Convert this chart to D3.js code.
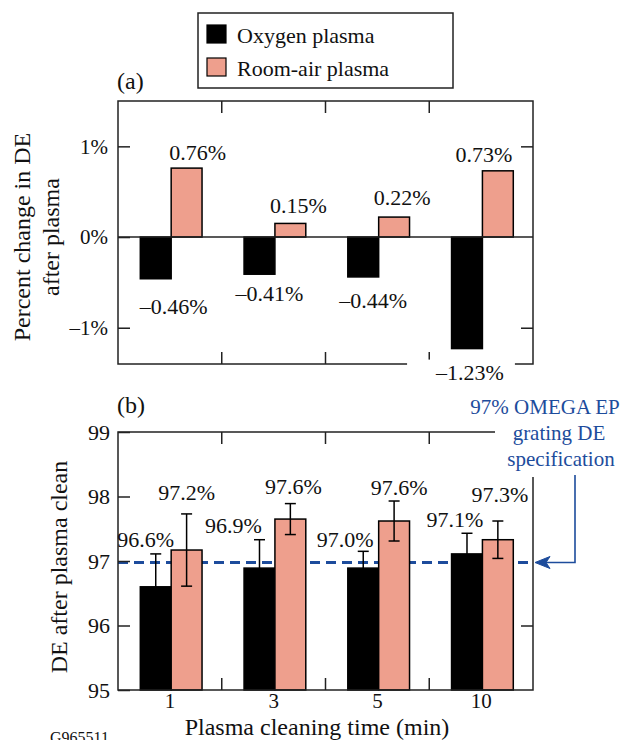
<!DOCTYPE html>
<html>
<head>
<meta charset="utf-8">
<script src="https://cdn.jsdelivr.net/npm/d3@7"></script>
<style>
  html, body { margin: 0; padding: 0; background: #fff; }
  svg { display: block; }
  text { font-family: "Liberation Serif", "Times New Roman", serif; fill: #111; }
</style>
</head>
<body>
<svg id="chart" width="624" height="740"></svg>
<script>
// ---------------- DATA ----------------
const categories = ["1", "3", "5", "10"];
const seriesNames = ["Oxygen plasma", "Room-air plasma"];
// panel (a): percent change in DE after plasma
const changeOxygen = [-0.46, -0.41, -0.44, -1.23];
const changeRoomAir = [0.76, 0.15, 0.22, 0.73];
const changeOxygenLabels = ["–0.46%", "–0.41%", "–0.44%", "–1.23%"];
const changeRoomAirLabels = ["0.76%", "0.15%", "0.22%", "0.73%"];
const yTicksA = [-1, 0, 1];
const yTickLabelsA = ["–1%", "0%", "1%"];
// panel (b): DE after plasma clean
const deOxygen = [96.6, 96.89, 96.89, 97.11];
const deRoomAir = [97.17, 97.65, 97.62, 97.33];
const errOxygen = [0.51, 0.44, 0.26, 0.32];
const errRoomAir = [0.56, 0.24, 0.31, 0.29];
const deOxygenLabels = ["96.6%", "96.9%", "97.0%", "97.1%"];
const deRoomAirLabels = ["97.2%", "97.6%", "97.6%", "97.3%"];
const yTicksB = [95, 96, 97, 98, 99];
const specValue = 97;
const specText = ["97% OMEGA EP", "grating DE", "specification"];
const xTitle = "Plasma cleaning time (min)";
const figureId = "G965511";

// ---------------- LAYOUT ----------------
const svg = d3.select("#chart");
const BLACK = "#000";
const PINK = "#EE9F8D";
const BLUE = "#1D4C9C";
const FRAME = "#222";
const left = 118, right = 533;
const A = { top: 101, bottom: 364 };
const B = { top: 432, bottom: 690 };

const x0 = d3.scaleBand().domain(categories).range([left, right]).padding(0);
const bw = x0.bandwidth();
const x1 = d3.scaleBand().domain(seriesNames).range([bw * 0.215, bw * 0.81]).padding(0);
const yA = d3.scaleLinear().domain([-1.4, 1.5]).range([A.bottom, A.top]);
const yB = d3.scaleLinear().domain([95, 99]).range([B.bottom, B.top]);
const color = d3.scaleOrdinal().domain(seriesNames).range([BLACK, PINK]);

// label nudges (manual label placement, px)
const nudgeAOxy = { dx: [18, 10, 10, 3], dy: [35, 27, 31, 31] };
const nudgeARoom = { dx: [11, 8, 8, -14], dy: [-8, -10, -12, -9] };
const nudgeBOxy = { dx: [-10, -26, -18, -12], dy: [-7, -7, -4, -6] };
const nudgeBRoom = { dx: [0, 3, 5, 2], dy: [-14, -10, -6, -19] };

function frame(g, top, bottom) {
  g.append("rect").attr("x", left).attr("y", top)
    .attr("width", right - left).attr("height", bottom - top)
    .attr("fill", "none").attr("stroke", FRAME).attr("stroke-width", 1.5);
  categories.slice(1).forEach(c => {
    const xx = x0(c);
    g.append("line").attr("x1", xx).attr("x2", xx).attr("y1", top).attr("y2", top + 12)
      .attr("stroke", FRAME).attr("stroke-width", 1.5);
    g.append("line").attr("x1", xx).attr("x2", xx).attr("y1", bottom).attr("y2", bottom - 12)
      .attr("stroke", FRAME).attr("stroke-width", 1.5);
  });
}

function styleAxis(g, fs) {
  g.select(".domain").remove();
  g.selectAll(".tick line").attr("stroke", FRAME).attr("stroke-width", 1.5);
  g.selectAll(".tick text").attr("font-size", fs).attr("fill", "#111")
    .attr("font-family", "'Liberation Serif','Times New Roman',serif");
}

// ---------------- LEGEND ----------------
const leg = svg.append("g");
leg.append("rect").attr("x", 198).attr("y", 13).attr("width", 255).attr("height", 75)
  .attr("fill", "#fff").attr("stroke", FRAME).attr("stroke-width", 1.5);
seriesNames.forEach((s, i) => {
  leg.append("rect").attr("x", 207).attr("y", 25 + i * 33).attr("width", 19).attr("height", 18)
    .attr("fill", color(s)).attr("stroke", BLACK).attr("stroke-width", 1.2);
  leg.append("text").attr("x", 237).attr("y", 43 + i * 33).attr("font-size", 22).text(s);
});

// ---------------- PANEL (a) ----------------
const gA = svg.append("g");
gA.append("text").attr("x", 117).attr("y", 89).attr("font-size", 24).text("(a)");

const rowsA = categories.map((c, i) => ({ c, i, vals: [changeOxygen[i], changeRoomAir[i]] }));
const groupsA = gA.selectAll(".grpA").data(rowsA).join("g")
  .attr("transform", d => `translate(${x0(d.c)},0)`);
groupsA.selectAll("rect").data(d => d.vals.map((v, k) => ({ s: seriesNames[k], v })))
  .join("rect")
  .attr("x", d => x1(d.s)).attr("width", x1.bandwidth())
  .attr("y", d => yA(Math.max(0, d.v)))
  .attr("height", d => Math.abs(yA(d.v) - yA(0)))
  .attr("fill", d => color(d.s)).attr("stroke", BLACK).attr("stroke-width", 1.5);

frame(gA, A.top, A.bottom);
gA.append("line").attr("x1", left).attr("x2", right).attr("y1", yA(0)).attr("y2", yA(0))
  .attr("stroke", FRAME).attr("stroke-width", 1.5);

const axLA = gA.append("g").attr("transform", `translate(${left},0)`)
  .call(d3.axisLeft(yA).tickValues(yTicksA).tickSizeInner(-12).tickSizeOuter(0).tickPadding(10)
    .tickFormat((d, i) => yTickLabelsA[i]));
styleAxis(axLA, 21);
const axRA = gA.append("g").attr("transform", `translate(${right},0)`)
  .call(d3.axisRight(yA).tickValues([-1, 1]).tickSizeInner(-12).tickSizeOuter(0).tickFormat(""));
styleAxis(axRA, 21);

categories.forEach((c, i) => {
  const xo = x0(c) + x1(seriesNames[0]) + x1.bandwidth() / 2;
  const xr = x0(c) + x1(seriesNames[1]) + x1.bandwidth() / 2;
  const tO = gA.append("text").attr("x", xo + nudgeAOxy.dx[i]).attr("y", yA(changeOxygen[i]) + nudgeAOxy.dy[i])
    .attr("text-anchor", "middle").attr("font-size", 22).text(changeOxygenLabels[i]);
  const bb = tO.node().getBBox();
  if (bb.y + bb.height > A.bottom - 4) {
    gA.insert("rect", () => tO.node()).attr("x", bb.x - 28).attr("y", bb.y)
      .attr("width", bb.width + 39).attr("height", bb.height).attr("fill", "#fff");
  }
  gA.append("text").attr("x", xr + nudgeARoom.dx[i]).attr("y", yA(changeRoomAir[i]) + nudgeARoom.dy[i])
    .attr("text-anchor", "middle").attr("font-size", 22).text(changeRoomAirLabels[i]);
});

const tA = gA.append("text").attr("transform", `translate(30,${yA(0)}) rotate(-90)`)
  .attr("text-anchor", "middle").attr("font-size", 24);
tA.append("tspan").attr("x", 0).attr("y", 0).text("Percent change in DE");
tA.append("tspan").attr("x", 0).attr("y", 29).text("after plasma");

// ---------------- PANEL (b) ----------------
const gB = svg.append("g");
gB.append("text").attr("x", 117).attr("y", 413).attr("font-size", 24).text("(b)");

const ySpec = yB(specValue) + 1.5;
gB.append("line").attr("x1", left).attr("x2", right).attr("y1", ySpec).attr("y2", ySpec)
  .attr("stroke", BLUE).attr("stroke-width", 3).attr("stroke-dasharray", "10,6");

const rowsB = categories.map((c, i) => ({ c, i,
  vals: [{ s: seriesNames[0], v: deOxygen[i], e: errOxygen[i] }, { s: seriesNames[1], v: deRoomAir[i], e: errRoomAir[i] }] }));
const groupsB = gB.selectAll(".grpB").data(rowsB).join("g")
  .attr("transform", d => `translate(${x0(d.c)},0)`);
groupsB.selectAll("rect").data(d => d.vals).join("rect")
  .attr("x", d => x1(d.s)).attr("width", x1.bandwidth())
  .attr("y", d => yB(d.v)).attr("height", d => yB(95) - yB(d.v))
  .attr("fill", d => color(d.s)).attr("stroke", BLACK).attr("stroke-width", 1.5);
const eb = groupsB.selectAll(".eb").data(d => d.vals).join("g")
  .attr("transform", d => `translate(${x1(d.s) + x1.bandwidth() / 2},0)`)
  .attr("stroke", BLACK).attr("stroke-width", 1.5);
eb.append("line").attr("y1", d => yB(d.v - d.e)).attr("y2", d => yB(d.v + d.e));
eb.append("line").attr("x1", -5.5).attr("x2", 5.5).attr("y1", d => yB(d.v + d.e)).attr("y2", d => yB(d.v + d.e));
eb.append("line").attr("x1", -5.5).attr("x2", 5.5).attr("y1", d => yB(d.v - d.e)).attr("y2", d => yB(d.v - d.e));

frame(gB, B.top, B.bottom);

const axLB = gB.append("g").attr("transform", `translate(${left},0)`)
  .call(d3.axisLeft(yB).tickValues(yTicksB).tickSizeInner(-12).tickSizeOuter(0).tickPadding(8)
    .tickFormat(d3.format("d")));
styleAxis(axLB, 22);
const axRB = gB.append("g").attr("transform", `translate(${right},0)`)
  .call(d3.axisRight(yB).tickValues([96]).tickSizeInner(-12).tickSizeOuter(0).tickFormat(""));
styleAxis(axRB, 22);
const axXB = gB.append("g").attr("transform", `translate(0,${B.bottom})`)
  .call(d3.axisBottom(x0).tickSize(0).tickPadding(3));
styleAxis(axXB, 21);

categories.forEach((c, i) => {
  const xo = x0(c) + x1(seriesNames[0]) + x1.bandwidth() / 2;
  const xr = x0(c) + x1(seriesNames[1]) + x1.bandwidth() / 2;
  gB.append("text").attr("x", xo + nudgeBOxy.dx[i]).attr("y", yB(deOxygen[i] + errOxygen[i]) + nudgeBOxy.dy[i])
    .attr("text-anchor", "middle").attr("font-size", 22).text(deOxygenLabels[i]);
  gB.append("text").attr("x", xr + nudgeBRoom.dx[i]).attr("y", yB(deRoomAir[i] + errRoomAir[i]) + nudgeBRoom.dy[i])
    .attr("text-anchor", "middle").attr("font-size", 22).text(deRoomAirLabels[i]);
});

gB.append("text").attr("transform", `translate(67,${(B.top + B.bottom) / 2 + 6}) rotate(-90)`)
  .attr("text-anchor", "middle").attr("font-size", 24).text("DE after plasma clean");
gB.append("text").attr("x", 317).attr("y", 735).attr("text-anchor", "middle")
  .attr("font-size", 24).text(xTitle);
svg.append("text").attr("x", 50).attr("y", 743).attr("font-size", 16).text(figureId);

// annotation
gB.append("rect").attr("x", 495).attr("y", 392).attr("width", 129).attr("height", 85).attr("fill", "#fff");
const annX = [545, 559, 561];
specText.forEach((t, i) => {
  gB.append("text").attr("x", annX[i]).attr("y", 414 + i * 26).attr("text-anchor", "middle")
    .attr("font-size", 21).style("fill", BLUE).text(t);
});
gB.append("path").attr("d", `M575,475 V${ySpec} H546`)
  .attr("fill", "none").attr("stroke", BLUE).attr("stroke-width", 1.6);
gB.append("path").attr("d", `M535,${ySpec} L550,${ySpec - 6} L546,${ySpec} L550,${ySpec + 6} Z`)
  .attr("fill", BLUE).attr("stroke", BLUE).attr("stroke-width", 1);
</script>
</body>
</html>
